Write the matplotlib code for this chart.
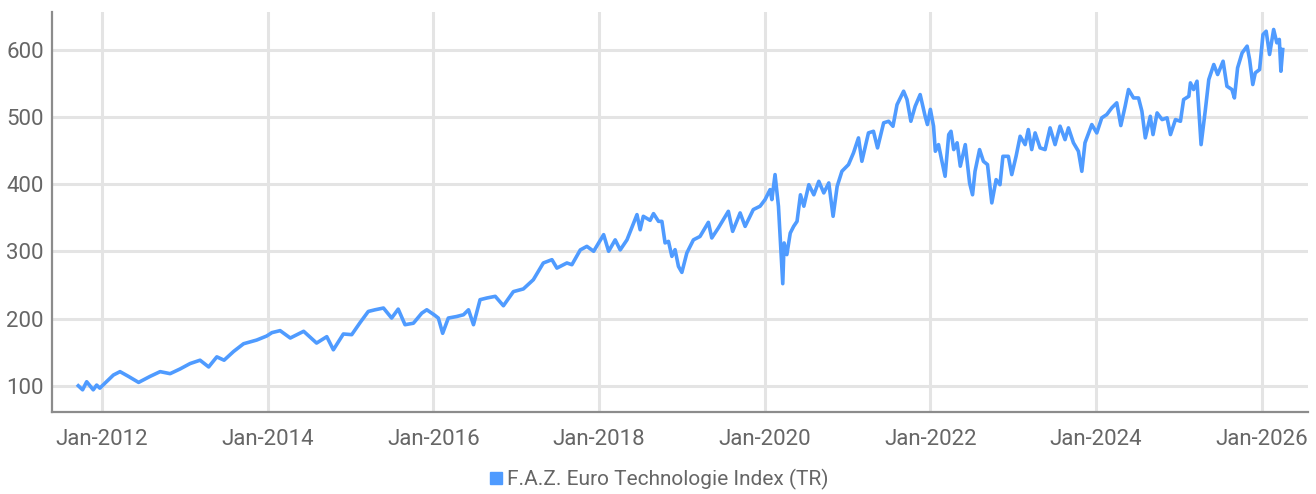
import matplotlib
matplotlib.use("Agg")
import matplotlib.pyplot as plt
import matplotlib.dates as mdates
from matplotlib.lines import Line2D
import pandas as pd

# Werte des Index
dates = [
    "2011-09-18", "2011-10-07", "2011-10-25", "2011-11-23", "2011-12-08", "2011-12-22",
    "2012-02-20", "2012-03-20", "2012-04-26", "2012-06-10", "2012-07-31", "2012-09-13",
    "2012-10-27", "2012-12-10", "2013-01-23", "2013-03-08", "2013-04-15", "2013-05-21",
    "2013-06-22", "2013-08-03", "2013-09-16", "2013-11-13", "2013-12-27", "2014-01-19",
    "2014-02-24", "2014-04-10", "2014-06-08", "2014-08-04", "2014-09-18", "2014-10-17",
    "2014-11-30", "2015-01-06", "2015-02-12", "2015-03-20", "2015-04-19", "2015-05-26",
    "2015-07-01", "2015-07-30", "2015-08-29", "2015-10-05", "2015-11-11", "2015-12-03",
    "2016-01-04", "2016-01-23", "2016-02-11", "2016-03-07", "2016-04-13", "2016-05-13",
    "2016-06-04", "2016-06-26", "2016-07-25", "2016-08-24", "2016-09-30", "2016-11-05",
    "2016-12-19", "2017-02-01", "2017-03-17", "2017-04-30", "2017-06-07", "2017-06-29",
    "2017-08-12", "2017-09-03", "2017-10-10", "2017-11-08", "2017-12-08", "2018-01-21",
    "2018-02-12", "2018-03-13", "2018-04-04", "2018-05-04", "2018-06-17", "2018-07-01",
    "2018-07-15", "2018-08-14", "2018-08-29", "2018-09-20", "2018-10-05", "2018-10-19",
    "2018-11-03", "2018-11-18", "2018-12-02", "2018-12-17", "2019-01-01", "2019-01-23",
    "2019-02-21", "2019-03-22", "2019-04-28", "2019-05-13", "2019-06-11", "2019-07-25",
    "2019-08-13", "2019-09-15", "2019-10-07", "2019-11-12", "2019-12-12", "2020-01-03",
    "2020-01-25", "2020-02-02", "2020-02-16", "2020-03-02", "2020-03-12", "2020-03-21",
    "2020-03-27", "2020-04-08", "2020-04-23", "2020-05-08", "2020-05-23", "2020-06-07",
    "2020-06-22", "2020-07-14", "2020-08-05", "2020-08-27", "2020-09-18", "2020-10-10",
    "2020-10-29", "2020-11-16", "2020-12-07", "2021-01-05", "2021-01-27", "2021-02-18",
    "2021-03-05", "2021-04-03", "2021-04-25", "2021-05-13", "2021-06-09", "2021-07-01",
    "2021-07-20", "2021-08-07", "2021-09-05", "2021-09-20", "2021-10-07", "2021-10-26",
    "2021-11-17", "2021-12-09", "2021-12-19", "2022-01-01", "2022-01-15", "2022-01-23",
    "2022-02-06", "2022-02-21", "2022-03-07", "2022-03-23", "2022-04-02", "2022-04-14",
    "2022-04-29", "2022-05-13", "2022-06-04", "2022-06-23", "2022-07-06", "2022-07-17",
    "2022-08-06", "2022-08-23", "2022-09-10", "2022-09-29", "2022-10-18", "2022-11-04",
    "2022-11-17", "2022-12-11", "2022-12-26", "2023-01-14", "2023-02-01", "2023-02-23",
    "2023-03-09", "2023-03-24", "2023-04-08", "2023-04-30", "2023-05-22", "2023-06-13",
    "2023-07-05", "2023-07-27", "2023-08-18", "2023-09-02", "2023-09-24", "2023-10-16",
    "2023-10-31", "2023-11-14", "2023-12-14", "2024-01-05", "2024-01-27", "2024-02-18",
    "2024-03-11", "2024-04-02", "2024-04-20", "2024-05-09", "2024-05-24", "2024-06-15",
    "2024-07-07", "2024-07-22", "2024-08-06", "2024-08-28", "2024-09-09", "2024-09-27",
    "2024-10-19", "2024-11-10", "2024-11-25", "2024-12-17", "2025-01-08", "2025-01-22",
    "2025-02-14", "2025-02-21", "2025-03-07", "2025-03-22", "2025-04-09", "2025-04-28",
    "2025-05-13", "2025-06-04", "2025-06-21", "2025-07-15", "2025-08-01", "2025-08-23",
    "2025-09-03", "2025-09-17", "2025-10-07", "2025-10-29", "2025-11-09", "2025-11-23",
    "2025-12-04", "2025-12-23", "2026-01-07", "2026-01-21", "2026-02-05", "2026-02-23",
    "2026-03-09", "2026-03-20", "2026-03-27", "2026-04-04",
]
values = [
    100, 94, 106, 94, 101, 96.5,
    116, 121, 114, 105, 114, 121,
    118, 125, 133, 138, 128, 143,
    138, 151, 162.5, 168, 174, 179,
    182, 171, 181, 163.5, 173, 153.5,
    177, 176, 194, 210.5, 213, 215.6,
    200.7, 214, 190.8, 193, 208, 213,
    205.6, 200.7, 178, 200.7, 203, 205.6,
    213, 190.8, 228, 230.5, 233, 219,
    240, 244, 257.7, 282.6, 287.5, 275,
    282.6, 280, 302, 307.3, 300, 324.7,
    300, 317, 302, 317, 354.5, 332,
    352, 346, 356, 344.5, 344.5, 312.4,
    314.7, 292.4, 302.4, 277.5, 268.6, 297.5,
    317, 322, 343, 319.8, 334.7, 359.4,
    329.6, 357, 337, 362, 367, 376.8,
    391.7, 376.8, 414, 367, 307.3, 251.8,
    312.4, 295, 327, 337, 344.5, 384,
    367, 399, 384, 404, 386.8, 401.6,
    352, 396.6, 419, 428.9, 446.3, 468.6,
    433.8, 476, 478.4, 453.7, 491, 493.3,
    485.9, 518, 538, 525.6, 493.3, 515.6,
    533, 500.7, 488.4, 511, 486, 448.7,
    458.6, 433.8, 411.5, 473.5, 478.4, 451.2,
    461.3, 426.5, 458.6, 401.6, 384, 418.9,
    451.2, 433.8, 428.9, 371.9, 406.5, 399,
    441.2, 441.2, 414, 441.2, 471, 458.6,
    481, 451.2, 476, 453.7, 451.2, 483.5,
    458.6, 486, 466, 483.5, 461.3, 448.7,
    418.9, 461.3, 488.4, 476, 498.4, 503.3,
    513.2, 520.7, 486.9, 515.6, 540.5, 528,
    528, 508.2, 468.6, 500.7, 473.5, 505.7,
    495.8, 498.4, 473.5, 495.8, 493.3, 525.6,
    530.5, 550.4, 540.5, 552.9, 458.6, 510.7,
    555.4, 577.7, 562.8, 582.6, 545.4, 540.5,
    528, 572.7, 595, 605, 585.1, 547.9,
    565.3, 570.2, 622.3, 627.2, 592.6, 629.8,
    610, 615, 567.7, 600,
]
series_name = "F.A.Z. Euro Technologie Index (TR)"
y_ticks = [100, 200, 300, 400, 500, 600]
x_tick_years = [2012, 2014, 2016, 2018, 2020, 2022, 2024, 2026]

LINE_COLOR = "#4f9bff"
GRID_COLOR = "#e4e4e4"
TEXT_COLOR = "#666666"
SPINE_COLOR = "#8c8c8c"

plt.rcParams["font.family"] = ["Roboto", "DejaVu Sans"]

df = pd.DataFrame({"date": pd.to_datetime(dates), "value": values})

fig = plt.figure(figsize=(13.16, 4.94), dpi=100)
ax = fig.add_axes([0.0395, 0.166, 0.9545, 0.81])

ax.plot(df["date"], df["value"], color=LINE_COLOR, linewidth=2.6,
        solid_joinstyle="round", zorder=3)

# Achsen
ax.set_ylim(61, 656)
ax.set_xlim(pd.Timestamp("2011-05-25"), pd.Timestamp("2026-07-25"))
ax.set_yticks(y_ticks)
ax.set_xticks([pd.Timestamp(f"{y}-01-01") for y in x_tick_years])
ax.xaxis.set_major_formatter(mdates.DateFormatter("%b-%Y"))

ax.grid(True, color=GRID_COLOR, linewidth=2.2, zorder=0)
ax.set_axisbelow(True)

for side in ["top", "right"]:
    ax.spines[side].set_visible(False)
for side in ["left", "bottom"]:
    ax.spines[side].set_color(SPINE_COLOR)
    ax.spines[side].set_linewidth(1.6)

ax.tick_params(axis="both", length=0, labelsize=16, labelcolor=TEXT_COLOR)
ax.tick_params(axis="x", pad=12)
ax.tick_params(axis="y", pad=6)

# Legende
handle = Line2D([], [], linestyle="none", marker="s", markersize=8,
                color=LINE_COLOR)
fig.legend([handle], [series_name], loc="center",
           bbox_to_anchor=(0.5, 0.03), frameon=False, fontsize=15,
           labelcolor=TEXT_COLOR, handletextpad=0.1, handlelength=0.8,
           borderpad=0.1)

fig.savefig("out.png", dpi=100)
